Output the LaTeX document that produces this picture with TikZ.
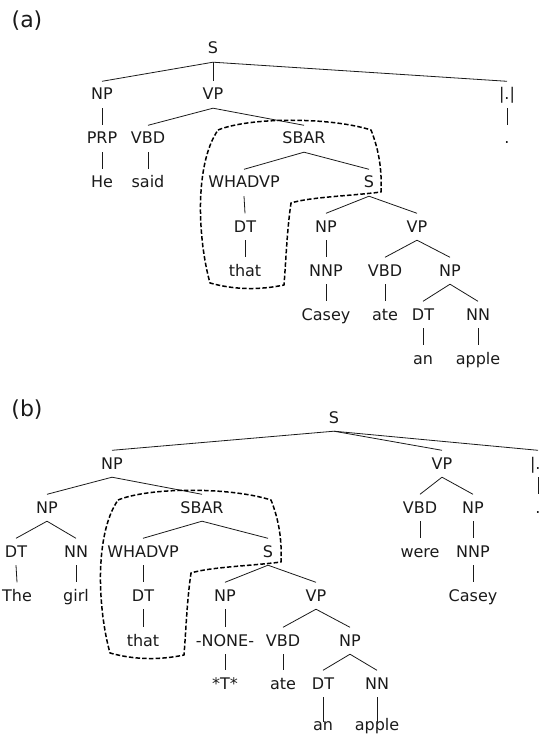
\documentclass[tikz,border=0pt]{standalone}
\usepackage{fontspec}
\setmainfont{DejaVu Sans}
\definecolor{ink}{HTML}{1A1A1A}
\begin{document}
\begin{tikzpicture}[x=1pt,y=-1pt,
  lbl/.style={anchor=base, inner xsep=1pt, inner ysep=6.5pt, text height=12pt, text depth=1.5pt, text=ink, font=\fontsize{16}{19}\selectfont},
  leaf/.style={lbl, inner ysep=1pt},
  edge/.style={line width=0.8pt, draw=ink},
  bracket/.style={line width=1.5pt, dash pattern=on 4.5pt off 2.2pt, line join=round, draw=black},
  panel/.style={anchor=center, inner sep=0pt, text=ink, font=\fontsize{22}{26}\selectfont}]
\useasboundingbox (0,0) rectangle (542,735);
% ---------------- panel (a)
\node[panel] (la) at (27,21) {(a)};
\node[lbl] (aS) at (213,54) {S};
\node[lbl] (aNP) at (102,100) {NP};
\node[lbl] (aVP) at (213,100) {VP};
\node[lbl] (aP) at (507,100) {|.|};
\node[lbl] (aPRP) at (102,144) {PRP};
\node[lbl] (aVBD) at (148,144) {VBD};
\node[lbl] (aSBAR) at (304,144) {SBAR};
\node[lbl] (aDot) at (507,144) {.};
\node[lbl] (aHe) at (102,188) {He};
\node[lbl] (asaid) at (148,188) {said};
\node[lbl] (aWH) at (244,188) {WHADVP};
\node[lbl] (aS2) at (369,188) {S};
\node[lbl] (aDT) at (245,232) {DT};
\node[lbl] (aNP2) at (326,232) {NP};
\node[lbl] (aVP2) at (417,232) {VP};
\node[lbl] (athat) at (245,276) {that};
\node[lbl] (aNNP) at (326,276) {NNP};
\node[lbl] (aVBD2) at (385,276) {VBD};
\node[lbl] (aNP3) at (450,276) {NP};
\node[lbl] (aCasey) at (326,320) {Casey};
\node[lbl] (aate) at (385,320) {ate};
\node[lbl] (aDT2) at (423,320) {DT};
\node[lbl] (aNN) at (478,320) {NN};
\node[lbl] (aan) at (423,364) {an};
\node[lbl] (aapple) at (478,364) {apple};
\foreach \p/\c in {aS/aNP,aS/aVP,aS/aP,aNP/aPRP,aPRP/aHe,aVP/aVBD,aVP/aSBAR,aVBD/asaid,aP/aDot,
  aSBAR/aWH,aSBAR/aS2,aWH/aDT,aDT/athat,aS2/aNP2,aS2/aVP2,aNP2/aNNP,aNNP/aCasey,
  aVP2/aVBD2,aVP2/aNP3,aVBD2/aate,aNP3/aDT2,aNP3/aNN,aDT2/aan,aNN/aapple}
  \draw[edge] (\p.south) -- (\c.north);
\draw[bracket] (218,130) .. controls (250,117) and (330,117) .. (371,130)
  .. controls (379,150) and (382,170) .. (381,192)
  .. controls (350,196) and (310,197) .. (291,203)
  .. controls (287,230) and (286,260) .. (284,285)
  .. controls (260,290) and (235,290) .. (210,283)
  .. controls (198,240) and (194,165) .. (218,130) -- cycle;
% ---------------- panel (b)
\node[panel] (lb) at (27,410) {(b)};
\node[lbl] (bS) at (334,423) {S};
\node[lbl] (bNP) at (112,469) {NP};
\node[lbl] (bVP) at (442,469) {VP};
\node[lbl] (bP) at (538,469) {|.\phantom{|}};
\node[lbl] (bNP2) at (47,513) {NP};
\node[lbl] (bSBAR) at (202,513) {SBAR};
\node[lbl] (bVBD) at (420,513) {VBD};
\node[lbl] (bNP3) at (473,513) {NP};
\node[lbl] (bDot) at (538,513) {.};
\node[lbl] (bDT) at (16,557) {DT};
\node[lbl] (bNN) at (76,557) {NN};
\node[lbl] (bWH) at (143,557) {WHADVP};
\node[lbl] (bS2) at (268,557) {S};
\node[lbl] (bwere) at (420,557) {were};
\node[lbl] (bNNP) at (473,557) {NNP};
\node[lbl] (bThe) at (17,601) {The};
\node[lbl] (bgirl) at (76,601) {girl};
\node[lbl] (bDT2) at (143,601) {DT};
\node[lbl] (bNP4) at (225,601) {NP};
\node[lbl] (bVP2) at (316,601) {VP};
\node[lbl] (bCasey) at (473,601) {Casey};
\node[lbl] (bthat) at (143,646) {that};
\node[lbl] (bNONE) at (225,646) {-NONE-};
\node[lbl] (bVBD2) at (283,646) {VBD};
\node[lbl] (bNP5) at (350,646) {NP};
\node[lbl] (bT) at (225,689) {*T*};
\node[lbl] (bate) at (283,689) {ate};
\node[lbl] (bDT3) at (323,689) {DT};
\node[lbl] (bNN2) at (377,689) {NN};
\node[leaf, text depth=3.5pt] (ban) at (323,730) {an};
\node[leaf, text depth=3.5pt] (bapple) at (377,730) {apple};
\foreach \p/\c in {bS/bNP,bS/bVP,bS/bP,bNP/bNP2,bNP/bSBAR,bNP2/bDT,bNP2/bNN,bDT/bThe,bNN/bgirl,
  bSBAR/bWH,bSBAR/bS2,bWH/bDT2,bDT2/bthat,bS2/bNP4,bS2/bVP2,bNP4/bNONE,bNONE/bT,
  bVP2/bVBD2,bVP2/bNP5,bVBD2/bate,bNP5/bDT3,bNP5/bNN2,
  bVP/bVBD,bVP/bNP3,bVBD/bwere,bNP3/bNNP,bNNP/bCasey,bP/bDot}
  \draw[edge] (\p.south) -- (\c.north);
\draw[edge] (bDT3.south) -- ([yshift=-5.5pt]ban.north);
\draw[edge] (bNN2.south) -- ([yshift=-5.5pt]bapple.north);
\begin{scope}[shift={(-100,370)}]
\draw[bracket] (218,130) .. controls (250,117) and (330,117) .. (371,130)
  .. controls (379,150) and (382,170) .. (381,192)
  .. controls (350,196) and (310,197) .. (291,203)
  .. controls (287,230) and (286,260) .. (284,285)
  .. controls (260,290) and (235,290) .. (210,283)
  .. controls (198,240) and (194,165) .. (218,130) -- cycle;
\end{scope}
\end{tikzpicture}
\end{document}
